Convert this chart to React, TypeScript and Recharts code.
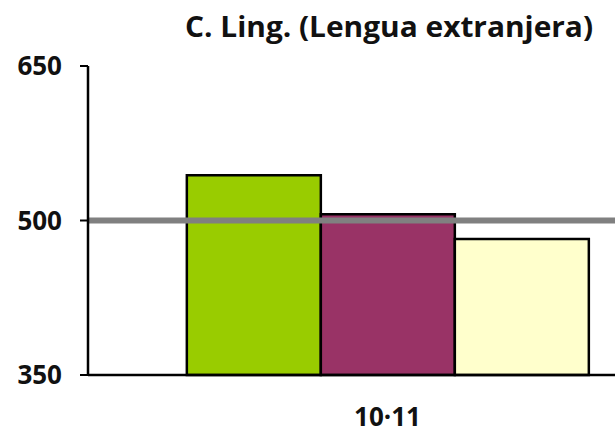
import React from "react";
import { BarChart, Bar, XAxis, YAxis, ReferenceLine } from "recharts";

const FONT = "'Open Sans', 'Noto Sans', sans-serif";

const years = ["10·11"];
const seriesA = [544];
const seriesB = [506];
const seriesC = [482];
const yTicks = [350, 500, 650];
const reference = 500;
const title = "C. Ling. (Lengua extranjera)";

const SERIES = [
  { key: "a", values: seriesA, color: "#99CC00" },
  { key: "b", values: seriesB, color: "#993366" },
  { key: "c", values: seriesC, color: "#FFFFCC" },
];

const data = years.map((year, i) => {
  const row: Record<string, string | number> = { year };
  SERIES.forEach((s) => (row[s.key] = s.values[i]));
  return row;
});

function XTick({ x, y, payload }: any) {
  return (
    <text
      x={x}
      y={y}
      dy={43}
      textAnchor="middle"
      fontFamily={FONT}
      fontWeight={700}
      fontSize={26}
      fill="#111"
    >
      {payload.value}
    </text>
  );
}

export default function App() {
  return (
    <div
      style={{
        position: "fixed",
        left: 0,
        top: 0,
        width: 615,
        height: 443,
        overflow: "hidden",
        background: "#fff",
      }}
    >
      <svg
        width={615}
        height={60}
        style={{ position: "absolute", left: 0, top: 0 }}
      >
        <text
          x={185}
          y={37}
          textLength={408}
          lengthAdjust="spacingAndGlyphs"
          fontFamily={FONT}
          fontWeight={700}
          fontSize={28}
          fill="#111"
        >
          {title}
        </text>
      </svg>
      <BarChart
        width={700}
        height={443}
        data={data}
        margin={{ top: 66, right: 13, bottom: 0, left: 0 }}
        barCategoryGap="16.5%"
        barGap={0}
      >
        <XAxis
          dataKey="year"
          height={68}
          tickLine={false}
          axisLine={{ stroke: "#000", strokeWidth: 2.5 }}
          tick={<XTick />}
        />
        <YAxis
          width={88}
          domain={[350, 650]}
          ticks={yTicks}
          interval={0}
          tickSize={8}
          tickMargin={18}
          axisLine={{ stroke: "#000", strokeWidth: 2.5 }}
          tickLine={{ stroke: "#000", strokeWidth: 2 }}
          tick={{ fontFamily: FONT, fontWeight: 700, fontSize: 26, fill: "#111" }}
        />
        {SERIES.map((s) => (
          <Bar
            key={s.key}
            dataKey={s.key}
            fill={s.color}
            stroke="#000"
            strokeWidth={2.5}
            isAnimationActive={false}
          />
        ))}
        <ReferenceLine y={reference} stroke="#808080" strokeWidth={6} />
      </BarChart>
    </div>
  );
}
